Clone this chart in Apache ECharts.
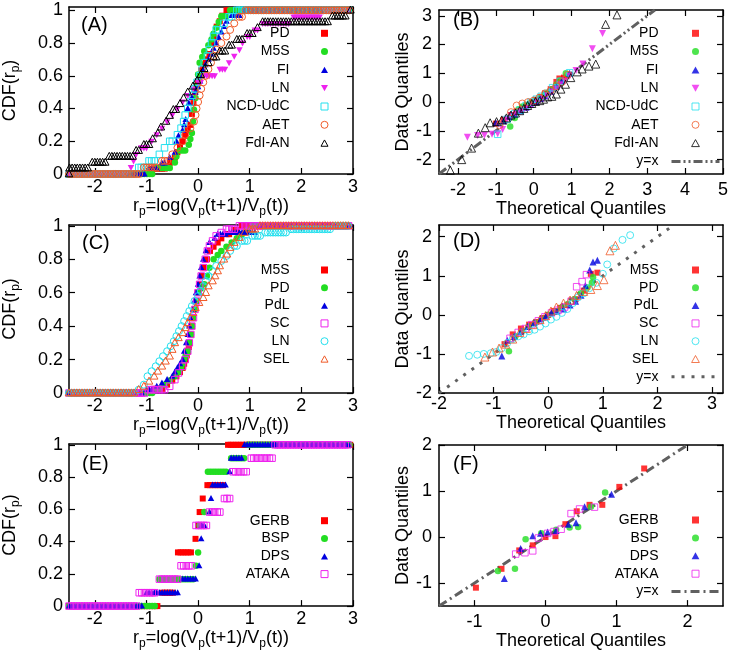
<!DOCTYPE html>
<html><head><meta charset="utf-8">
<script src="https://cdn.jsdelivr.net/npm/echarts@6/dist/echarts.min.js"></script>
<style>html,body{margin:0;padding:0;background:#fff}#c{width:731px;height:651px}</style>
</head><body><div id="c"></div>
<script>
// ---------------- DATA ----------------
// CDF panels: [x where the empirical CDF jumps, CDF value after the jump]
const cdfA_PD = [[-0.9,0.033],[-0.55,0.067],[-0.45,0.1],[-0.4,0.133],[-0.35,0.167],[-0.3,0.2],[-0.25,0.233],[-0.2,0.267],[-0.15,0.3],[-0.12,0.367],[-0.09,0.433],[-0.06,0.5],[-0.03,0.533],[0.0,0.567],[0.03,0.6],[0.06,0.633],[0.1,0.667],[0.15,0.7],[0.22,0.733],[0.27,0.8],[0.32,0.833],[0.36,0.9],[0.42,0.933],[0.47,0.967],[0.55,1.0]];
const cdfA_M5S = [[-0.8,0.036],[-0.45,0.071],[-0.42,0.107],[-0.35,0.143],[-0.18,0.179],[-0.15,0.214],[-0.12,0.25],[-0.1,0.321],[-0.08,0.393],[-0.05,0.464],[-0.02,0.536],[0.0,0.607],[0.03,0.679],[0.08,0.714],[0.12,0.75],[0.2,0.786],[0.26,0.821],[0.3,0.857],[0.35,0.893],[0.4,0.929],[0.45,0.964],[0.62,1.0]];
const cdfA_FI = [[-0.95,0.033],[-0.7,0.067],[-0.55,0.1],[-0.45,0.133],[-0.42,0.2],[-0.38,0.233],[-0.3,0.267],[-0.27,0.3],[-0.24,0.333],[-0.2,0.4],[-0.18,0.433],[-0.12,0.467],[-0.05,0.5],[0.0,0.533],[0.04,0.567],[0.08,0.6],[0.1,0.633],[0.14,0.667],[0.2,0.7],[0.25,0.733],[0.3,0.767],[0.35,0.8],[0.4,0.833],[0.45,0.867],[0.5,0.9],[0.55,0.933],[0.65,0.967],[0.9,1.0]];
const cdfA_LN = [[-1.3,0.04],[-1.25,0.08],[-1.2,0.12],[-1.1,0.16],[-0.9,0.2],[-0.8,0.24],[-0.7,0.28],[-0.6,0.32],[-0.5,0.36],[-0.4,0.4],[-0.3,0.44],[-0.2,0.48],[-0.1,0.52],[0.0,0.56],[0.12,0.6],[0.42,0.64],[0.6,0.68],[0.7,0.72],[0.8,0.76],[0.86,0.8],[0.95,0.84],[1.1,0.88],[1.25,0.92],[1.85,0.96],[2.45,1.0]];
const cdfA_NCD = [[-1.15,0.04],[-0.95,0.08],[-0.75,0.12],[-0.65,0.16],[-0.55,0.2],[-0.4,0.24],[-0.33,0.28],[-0.28,0.32],[-0.25,0.36],[-0.2,0.4],[-0.15,0.44],[-0.1,0.48],[-0.06,0.52],[-0.02,0.56],[0.03,0.6],[0.08,0.64],[0.12,0.68],[0.18,0.72],[0.22,0.76],[0.26,0.8],[0.3,0.84],[0.35,0.88],[0.5,0.92],[0.6,0.96],[0.75,1.0]];
const cdfA_AET = [[-1.05,0.04],[-0.7,0.08],[-0.5,0.12],[-0.4,0.16],[-0.3,0.2],[-0.25,0.24],[-0.15,0.28],[-0.08,0.32],[-0.05,0.36],[-0.03,0.4],[0.0,0.44],[0.03,0.48],[0.06,0.52],[0.1,0.56],[0.15,0.6],[0.2,0.64],[0.25,0.68],[0.3,0.72],[0.35,0.76],[0.45,0.8],[0.55,0.84],[0.62,0.88],[0.7,0.92],[0.8,0.96],[0.92,1.0]];
const cdfA_FdI = [[-2.49,0.036],[-2.05,0.071],[-1.72,0.107],[-1.2,0.143],[-1.05,0.179],[-0.88,0.214],[-0.78,0.25],[-0.72,0.286],[-0.62,0.321],[-0.55,0.357],[-0.48,0.393],[-0.35,0.429],[-0.28,0.464],[-0.2,0.5],[-0.1,0.536],[-0.02,0.571],[0.05,0.607],[0.12,0.643],[0.2,0.679],[0.3,0.714],[0.42,0.75],[0.6,0.786],[0.75,0.821],[0.95,0.857],[1.15,0.893],[1.25,0.929],[2.6,0.964],[2.95,1.0]];

const cdfC_M5S = [[-0.85,0.025],[-0.6,0.05],[-0.5,0.075],[-0.42,0.1],[-0.35,0.125],[-0.3,0.15],[-0.27,0.175],[-0.24,0.2],[-0.22,0.225],[-0.2,0.25],[-0.18,0.275],[-0.16,0.3],[-0.14,0.35],[-0.12,0.4],[-0.1,0.45],[-0.07,0.5],[-0.04,0.55],[-0.01,0.6],[0.03,0.65],[0.07,0.7],[0.12,0.75],[0.17,0.8],[0.23,0.85],[0.3,0.875],[0.38,0.9],[0.45,0.925],[0.55,0.95],[0.7,0.975],[0.85,1.0]];
const cdfC_PD = [[-0.8,0.025],[-0.65,0.05],[-0.55,0.075],[-0.45,0.1],[-0.38,0.125],[-0.33,0.15],[-0.3,0.175],[-0.27,0.2],[-0.24,0.225],[-0.2,0.25],[-0.17,0.3],[-0.14,0.35],[-0.12,0.4],[-0.1,0.45],[-0.07,0.5],[-0.04,0.55],[0.0,0.6],[0.05,0.625],[0.12,0.65],[0.17,0.7],[0.22,0.75],[0.3,0.8],[0.38,0.825],[0.45,0.85],[0.55,0.875],[0.65,0.9],[0.75,0.925],[0.85,0.95],[0.95,0.975],[1.05,1.0]];
const cdfC_PdL = [[-1.0,0.02],[-0.8,0.04],[-0.7,0.06],[-0.6,0.08],[-0.5,0.1],[-0.45,0.125],[-0.4,0.15],[-0.35,0.175],[-0.3,0.2],[-0.27,0.25],[-0.23,0.3],[-0.2,0.35],[-0.17,0.4],[-0.14,0.45],[-0.1,0.5],[-0.07,0.55],[-0.04,0.6],[0.0,0.65],[0.03,0.7],[0.06,0.75],[0.1,0.8],[0.15,0.85],[0.22,0.9],[0.32,0.925],[0.38,0.95],[0.6,0.96],[1.2,1.0]];
const cdfC_SC = [[-0.95,0.02],[-0.55,0.04],[-0.45,0.08],[-0.38,0.12],[-0.3,0.16],[-0.25,0.2],[-0.2,0.25],[-0.17,0.3],[-0.14,0.35],[-0.12,0.4],[-0.09,0.45],[-0.06,0.5],[-0.03,0.55],[0.0,0.6],[0.03,0.65],[0.06,0.7],[0.1,0.75],[0.14,0.8],[0.18,0.85],[0.22,0.88],[0.28,0.91],[0.35,0.94],[0.45,0.96],[0.55,0.98],[0.8,1.0]];
const cdfC_LN = [[-1.15,0.02],[-1.05,0.05],[-0.98,0.1],[-0.9,0.13],[-0.82,0.16],[-0.75,0.19],[-0.68,0.22],[-0.6,0.25],[-0.53,0.28],[-0.47,0.31],[-0.42,0.34],[-0.37,0.37],[-0.32,0.4],[-0.27,0.43],[-0.22,0.46],[-0.17,0.49],[-0.12,0.52],[-0.07,0.55],[0.0,0.58],[0.05,0.61],[0.1,0.64],[0.15,0.67],[0.2,0.7],[0.28,0.73],[0.35,0.76],[0.45,0.79],[0.55,0.82],[0.62,0.85],[0.7,0.88],[0.85,0.91],[1.05,0.94],[1.3,0.96],[1.8,0.98],[2.65,1.0]];
const cdfC_SEL = [[-1.15,0.02],[-1.05,0.04],[-0.95,0.07],[-0.85,0.1],[-0.78,0.13],[-0.7,0.16],[-0.63,0.19],[-0.55,0.22],[-0.5,0.26],[-0.45,0.3],[-0.38,0.33],[-0.3,0.36],[-0.25,0.39],[-0.2,0.42],[-0.15,0.45],[-0.1,0.48],[-0.05,0.51],[0.02,0.54],[0.1,0.57],[0.15,0.6],[0.2,0.64],[0.28,0.67],[0.33,0.7],[0.38,0.73],[0.42,0.76],[0.5,0.8],[0.56,0.83],[0.62,0.87],[0.7,0.9],[0.8,0.93],[0.9,0.96],[1.0,0.98],[1.2,1.0]];

const cdfE_GERB = [[-0.69,0.083],[-0.39,0.333],[-0.05,0.417],[0.0,0.5],[0.03,0.583],[0.09,0.667],[0.18,0.75],[0.58,1.0]];
const cdfE_BSP = [[-0.75,0.167],[-0.04,0.25],[0.0,0.333],[0.03,0.5],[0.12,0.583],[0.19,0.833],[0.64,0.917],[0.97,1.0]];
const cdfE_DPS = [[-1.0,0.083],[-0.3,0.167],[0.02,0.25],[0.06,0.417],[0.07,0.5],[0.22,0.583],[0.25,0.667],[0.28,0.75],[0.61,0.833],[0.64,0.917],[0.9,1.0]];
const cdfE_ATAKA = [[-1.14,0.083],[-0.75,0.167],[-0.33,0.25],[-0.04,0.5],[0.22,0.583],[0.51,0.667],[0.68,0.833],[1.03,0.917],[1.49,1.0]];

// Q-Q panels: [theoretical quantile, data quantile]
const qqB_PD = [[-1.0,-0.75],[-0.8,-0.62],[-0.6,-0.45],[-0.45,-0.32],[-0.3,-0.2],[-0.18,-0.1],[-0.05,0.0],[0.05,0.08],[0.18,0.18],[0.3,0.3],[0.45,0.45],[0.6,0.7],[0.68,0.82],[0.8,0.85]];
const qqB_M5S = [[-0.62,-0.85],[-0.5,-0.55],[-0.4,-0.25],[-0.3,-0.15],[-0.2,-0.1],[-0.1,-0.05],[0.0,0.0],[0.1,0.08],[0.2,0.15],[0.3,0.25],[0.4,0.35],[0.5,0.45],[0.6,0.6],[0.7,0.75],[0.85,1.0]];
const qqB_FI = [[-1.0,-0.72],[-0.8,-0.65],[-0.65,-0.5],[-0.5,-0.42],[-0.35,-0.3],[-0.2,-0.18],[-0.08,-0.08],[0.05,0.02],[0.18,0.12],[0.3,0.22],[0.45,0.38],[0.6,0.55],[0.75,0.75],[0.95,1.0]];
const qqB_LN = [[-1.75,-1.22],[-1.48,-1.16],[-1.3,-1.15],[-1.1,-1.12],[-0.95,-1.1],[-0.82,-0.95],[-0.7,-0.6],[-0.58,-0.48],[-0.47,-0.4],[-0.36,-0.34],[-0.26,-0.27],[-0.16,-0.2],[-0.05,-0.1],[0.05,-0.02],[0.16,0.05],[0.26,0.12],[0.36,0.22],[0.47,0.35],[0.58,0.45],[0.7,0.6],[0.82,0.72],[0.95,0.9],[1.12,1.1],[1.3,1.32],[1.55,1.85],[1.82,2.38]];
const qqB_NCD = [[-0.95,-1.12],[-0.7,-0.6],[-0.5,-0.4],[-0.35,-0.28],[-0.2,-0.12],[-0.07,0.0],[0.07,0.1],[0.2,0.2],[0.35,0.3],[0.5,0.5],[0.7,0.72],[0.95,1.02]];
const qqB_AET = [[-0.9,-0.8],[-0.6,-0.35],[-0.45,-0.12],[-0.3,-0.05],[-0.15,0.0],[0.0,0.05],[0.15,0.15],[0.3,0.3],[0.45,0.4],[0.6,0.55],[0.75,0.7],[0.9,0.95]];
const qqB_FdI = [[-2.2,-2.37],[-1.9,-2.0],[-1.64,-1.6],[-1.46,-1.08],[-1.28,-0.89],[-1.15,-0.72],[-0.98,-0.68],[-0.84,-0.62],[-0.72,-0.55],[-0.6,-0.45],[-0.48,-0.38],[-0.37,-0.3],[-0.26,-0.22],[-0.16,-0.12],[-0.05,-0.05],[0.05,0.02],[0.16,0.05],[0.26,0.1],[0.37,0.18],[0.48,0.2],[0.6,0.28],[0.72,0.45],[0.84,0.62],[0.98,0.85],[1.15,1.05],[1.28,1.15],[1.46,1.25],[1.64,1.32],[1.9,2.7],[2.2,3.03]];

const qqD_M5S = [[-0.8,-0.75],[-0.65,-0.5],[-0.5,-0.35],[-0.35,-0.25],[-0.22,-0.18],[-0.1,-0.08],[0.0,0.0],[0.1,0.1],[0.22,0.18],[0.35,0.25],[0.5,0.4],[0.65,0.62],[0.78,1.05],[0.9,1.08]];
const qqD_PD = [[-0.72,-0.93],[-0.6,-0.55],[-0.48,-0.42],[-0.36,-0.3],[-0.24,-0.2],[-0.12,-0.1],[0.0,0.0],[0.12,0.08],[0.24,0.18],[0.36,0.28],[0.48,0.4],[0.6,0.55],[0.72,0.7],[0.8,0.82],[0.82,0.96]];
const qqD_PdL = [[-0.85,-1.05],[-0.75,-0.65],[-0.62,-0.55],[-0.5,-0.42],[-0.38,-0.3],[-0.26,-0.2],[-0.14,-0.1],[-0.04,-0.02],[0.06,0.06],[0.16,0.1],[0.28,0.15],[0.4,0.25],[0.5,0.35],[0.6,0.5],[0.68,0.75],[0.76,1.15],[0.82,1.35],[0.9,1.4]];
const qqD_SC = [[-0.7,-0.6],[-0.55,-0.45],[-0.42,-0.35],[-0.3,-0.25],[-0.18,-0.15],[-0.06,-0.05],[0.06,0.05],[0.18,0.12],[0.3,0.2],[0.42,0.35],[0.52,0.72],[0.62,0.85],[0.7,1.03]];
const qqD_LN = [[-1.45,-1.05],[-1.3,-1.02],[-1.18,-1.0],[-1.05,-0.98],[-0.95,-0.95],[-0.85,-0.85],[-0.75,-0.72],[-0.65,-0.62],[-0.55,-0.55],[-0.45,-0.5],[-0.35,-0.42],[-0.25,-0.38],[-0.15,-0.3],[-0.05,-0.22],[0.05,-0.12],[0.15,-0.05],[0.25,0.05],[0.35,0.15],[0.45,0.3],[0.55,0.45],[0.65,0.55],[0.75,0.68],[0.88,0.82],[1.0,1.05],[1.08,1.29],[1.2,1.7],[1.36,1.92],[1.5,2.04]];
const qqD_SEL = [[-1.16,-1.08],[-1.02,-0.95],[-0.9,-0.85],[-0.78,-0.75],[-0.65,-0.62],[-0.52,-0.45],[-0.4,-0.35],[-0.28,-0.25],[-0.15,-0.12],[-0.05,-0.02],[0.05,0.1],[0.15,0.2],[0.28,0.3],[0.4,0.38],[0.52,0.5],[0.65,0.6],[0.78,0.65],[0.9,0.75],[1.02,0.9],[1.13,1.64],[1.23,1.78]];

const qqF_GERB = [[-0.98,-1.1],[-0.62,-0.69],[-0.37,-0.29],[-0.18,-0.18],[0.0,0.0],[0.14,0.02],[0.28,0.28],[0.44,0.56],[0.62,0.7],[0.8,0.7],[1.04,1.09],[1.39,1.49]];
const qqF_BSP = [[-0.67,-0.74],[-0.43,-0.69],[-0.28,-0.05],[-0.06,0.08],[0.15,0.16],[0.34,0.21],[0.46,0.22],[0.64,0.66],[0.84,0.97]];
const qqF_DPS = [[-0.58,-0.9],[-0.35,-0.25],[-0.18,0.03],[-0.07,0.08],[0.03,0.11],[0.15,0.14],[0.32,0.28],[0.43,0.31],[0.55,0.66],[0.93,0.93]];
const qqF_ATAKA = [[-0.42,-0.37],[-0.29,-0.34],[-0.18,-0.3],[-0.1,-0.02],[0.03,0.08],[0.12,0.12],[0.22,0.17],[0.36,0.51],[0.48,0.61],[0.69,0.65]];

// y = x reference lines (start, end)
const refB = [-2.5, 3.2];
const refD = [-2, 2.3];
const refF = [-1.5, 2];

// Axis ranges and tick labels
const xRangeCDF = [-2.5, 3], xTicksCDF = [-2, -1, 0, 1, 2, 3], yTicksCDF = [0, 0.2, 0.4, 0.6, 0.8, 1];
const xRangeB = [-2.5, 5], yRangeB = [-2.5, 3.2], xTicksB = [-2,-1,0,1,2,3,4,5], yTicksB = [-2,-1,0,1,2,3];
const xRangeD = [-2, 3.2], yRangeD = [-2, 2.3], xTicksD = [-2,-1,0,1,2,3], yTicksD = [-2,-1,0,1,2];
const xRangeF = [-1.5, 2.5], yRangeF = [-1.5, 2], xTicksF = [-1,0,1,2], yTicksF = [-1,0,1,2];
const yMaxA = 1.02, yMaxC = 1.005, yMaxE = 1.005;

// ---------------- STYLE / LAYOUT ----------------
const FONT = '"Liberation Sans", Arial, Helvetica, sans-serif';
const COL = {red:'#ff0000', green:'#22dd22', blue:'#0000e0', mag:'#ee22ee', cyan:'#22e0ee', orange:'#f05a28', black:'#000000', gray:'#606060'};
const M = {
  sqF:{shape:'rect', open:false, size:6}, ciF:{shape:'circle', open:false, size:6.5},
  trF:{shape:'tri', open:false, size:6.5}, tdF:{shape:'tridown', open:false, size:6.5},
  sqO:{shape:'rect', open:true, size:6.5}, ciO:{shape:'circle', open:true, size:7},
  trO:{shape:'tri', open:true, size:7.5}
};
const grids = [
  {left:67, top:7, width:286, height:167},
  {left:439, top:10, width:284, height:164},
  {left:67, top:225, width:286, height:168},
  {left:439, top:225, width:284, height:168},
  {left:67, top:444, width:286, height:167},
  {left:439, top:445, width:284, height:164}
];

function markerEl(shape, cx, cy, s, open, color) {
  const style = open ? {fill: null, stroke: color, lineWidth: 1} : {fill: color, stroke: null};
  const h = s / 2;
  if (shape === 'rect') return {type:'rect', shape:{x:cx-h, y:cy-h, width:s, height:s}, style};
  if (shape === 'circle') return {type:'circle', shape:{cx:cx, cy:cy, r:h}, style};
  if (shape === 'tri') return {type:'polygon', shape:{points:[[cx, cy-h*1.1],[cx-h, cy+h*0.75],[cx+h, cy+h*0.75]]}, style};
  return {type:'polygon', shape:{points:[[cx, cy+h*1.1],[cx-h, cy-h*0.75],[cx+h, cy-h*0.75]]}, style};
}
function makeRender(mk, color) {
  return function (params, api) {
    const p0 = api.coord([api.value(0), api.value(2)]);
    const p1 = api.coord([api.value(1), api.value(2)]);
    const step = 2.6;
    const n = Math.max(1, Math.floor((p1[0] - p0[0]) / step));
    const children = [];
    for (let k = 0; k < n; k++) children.push(markerEl(mk.shape, p0[0] + k * step, p0[1], mk.size, mk.open, color));
    return {type:'group', children};
  };
}
function cdfSegments(jumps, xr) {
  const segs = []; let px = xr[0], pF = 0;
  jumps.forEach(j => { segs.push([px, j[0], pF]); px = j[0]; pF = j[1]; });
  segs.push([px, xr[1], pF]);
  return segs;
}
const iconOf = {rect:'path://M0,0L10,0L10,10L0,10Z', circle:'circle', tri:'path://M5,0L10,9L0,9Z', tridown:'path://M0,0L10,0L5,9Z'};
const legendData = [[],[],[],[],[],[]];
const series = [];
function legendItem(name, mk, color) {
  return {name, icon: iconOf[mk.shape],
    itemStyle: mk.open ? {color:'rgba(0,0,0,0)', borderColor:color, borderWidth:1} : {color, borderWidth:0}};
}
function addCDF(gi, key, label, jumps, mk, color) {
  const name = key + ':' + label;
  series.push({type:'custom', name, xAxisIndex:2*gi, yAxisIndex:2*gi, clip:false,
    data: cdfSegments(jumps, xRangeCDF), encode:{x:[0,1], y:2},
    itemStyle:{color}, renderItem: makeRender(mk, color)});
  legendData[gi].push(legendItem(name, mk, color));
}
function addQQ(gi, key, label, pts, mk, color) {
  const name = key + ':' + label;
  const sym = (mk.shape === 'tridown' || mk.shape === 'tri') ? 'triangle' : mk.shape;
  series.push({type:'scatter', name, xAxisIndex:2*gi, yAxisIndex:2*gi, data: pts,
    symbol: sym, symbolRotate: mk.shape === 'tridown' ? 180 : 0, symbolSize: mk.size + (mk.shape.indexOf('tri') >= 0 ? 0.5 : 0),
    itemStyle: mk.open ? {color:'rgba(0,0,0,0)', borderColor:color, borderWidth:1} : {color, borderWidth:0},
    emphasis:{disabled:true}});
  legendData[gi].push(legendItem(name, mk, color));
}
function addRef(gi, key, ends, dash) {
  const name = key + ':y=x';
  series.push({type:'line', name, xAxisIndex:2*gi, yAxisIndex:2*gi, data: ends.map(v => [v, v]),
    symbol:'none', showSymbol:false, itemStyle:{color:COL.gray}, lineStyle:{color:COL.gray, width:3, type:dash}, z:1, silent:true});
  legendData[gi].push({name, itemStyle:{color:'rgba(0,0,0,0)', borderWidth:0}, lineStyle:{color:COL.gray, width:3, type:dash}});
}

// Panel A
addCDF(0,'A','PD',cdfA_PD,M.sqF,COL.red);
addCDF(0,'A','M5S',cdfA_M5S,M.ciF,COL.green);
addCDF(0,'A','FI',cdfA_FI,M.trF,COL.blue);
addCDF(0,'A','LN',cdfA_LN,M.tdF,COL.mag);
addCDF(0,'A','NCD-UdC',cdfA_NCD,M.sqO,COL.cyan);
addCDF(0,'A','AET',cdfA_AET,M.ciO,COL.orange);
addCDF(0,'A','FdI-AN',cdfA_FdI,M.trO,COL.black);
// Panel B
const dashB = [9,3,2,3,2,3], dashD = [3,7], dashF = [9,4,2,4];
addRef(1,'B',refB,dashB);
addQQ(1,'B','PD',qqB_PD,M.sqF,COL.red);
addQQ(1,'B','M5S',qqB_M5S,M.ciF,COL.green);
addQQ(1,'B','FI',qqB_FI,M.trF,COL.blue);
addQQ(1,'B','LN',qqB_LN,M.tdF,COL.mag);
addQQ(1,'B','NCD-UdC',qqB_NCD,M.sqO,COL.cyan);
addQQ(1,'B','AET',qqB_AET,M.ciO,COL.orange);
addQQ(1,'B','FdI-AN',qqB_FdI,M.trO,COL.black);
// Panel C
addCDF(2,'C','M5S',cdfC_M5S,M.sqF,COL.red);
addCDF(2,'C','PD',cdfC_PD,M.ciF,COL.green);
addCDF(2,'C','PdL',cdfC_PdL,M.trF,COL.blue);
addCDF(2,'C','SC',cdfC_SC,M.sqO,COL.mag);
addCDF(2,'C','LN',cdfC_LN,M.ciO,COL.cyan);
addCDF(2,'C','SEL',cdfC_SEL,M.trO,COL.orange);
// Panel D
addRef(3,'D',refD,dashD);
addQQ(3,'D','M5S',qqD_M5S,M.sqF,COL.red);
addQQ(3,'D','PD',qqD_PD,M.ciF,COL.green);
addQQ(3,'D','PdL',qqD_PdL,M.trF,COL.blue);
addQQ(3,'D','SC',qqD_SC,M.sqO,COL.mag);
addQQ(3,'D','LN',qqD_LN,M.ciO,COL.cyan);
addQQ(3,'D','SEL',qqD_SEL,M.trO,COL.orange);
// Panel E
addCDF(4,'E','GERB',cdfE_GERB,M.sqF,COL.red);
addCDF(4,'E','BSP',cdfE_BSP,M.ciF,COL.green);
addCDF(4,'E','DPS',cdfE_DPS,M.trF,COL.blue);
addCDF(4,'E','ATAKA',cdfE_ATAKA,M.sqO,COL.mag);
// Panel F
addRef(5,'F',refF,dashF);
addQQ(5,'F','GERB',qqF_GERB,M.sqF,COL.red);
addQQ(5,'F','BSP',qqF_BSP,M.ciF,COL.green);
addQQ(5,'F','DPS',qqF_DPS,M.trF,COL.blue);
addQQ(5,'F','ATAKA',qqF_ATAKA,M.sqO,COL.mag);
// reference line entries go last in their legends
[1,3,5].forEach(i => legendData[i].push(legendData[i].shift()));

// ---------------- AXES ----------------
const rich = {n:{fontSize:18, fontFamily:FONT, color:'#000', lineHeight:24, verticalAlign:'middle'},
              s:{fontSize:12, fontFamily:FONT, color:'#000', lineHeight:24, verticalAlign:'bottom'}};
const xNameCDF = '{n|r}{s|p}{n|=log(V}{s|p}{n|(t+1)/V}{s|p}{n|(t))}';
const yNameCDF = '{n|CDF(r}{s|p}{n|)}';
const tickStyle = {show:true, inside:true, length:6, lineStyle:{color:'#000', width:1.2}};
const lineSt = {show:true, onZero:false, lineStyle:{color:'#000', width:1.5}};
const labelSt = {color:'#000', fontSize:18, fontFamily:FONT};
function axesFor(gi, xr, yr, xt, yt, xName, yName, xGap, yGap, xMargin, yMargin) {
  const xs = [
    {type:'value', gridIndex:gi, position:'bottom', min:xr[0], max:xr[1], axisLine:lineSt,
     axisTick:Object.assign({customValues:xt}, tickStyle), axisLabel:Object.assign({customValues:xt, margin:xMargin}, labelSt),
     splitLine:{show:false}, name:xName, nameLocation:'middle', nameGap:xGap,
     nameTextStyle:{fontSize:18, fontFamily:FONT, color:'#000', rich}},
    {type:'value', gridIndex:gi, position:'top', min:xr[0], max:xr[1], axisLine:lineSt,
     axisTick:Object.assign({customValues:xt}, tickStyle), axisLabel:{show:false}, splitLine:{show:false}}
  ];
  const ys = [
    {type:'value', gridIndex:gi, position:'left', min:yr[0], max:yr[1], axisLine:lineSt,
     axisTick:Object.assign({customValues:yt}, tickStyle), axisLabel:Object.assign({customValues:yt, margin:yMargin}, labelSt),
     splitLine:{show:false}, name:yName, nameLocation:'middle', nameGap:yGap,
     nameTextStyle:{fontSize:18, fontFamily:FONT, color:'#000', rich}},
    {type:'value', gridIndex:gi, position:'right', min:yr[0], max:yr[1], axisLine:lineSt,
     axisTick:Object.assign({customValues:yt}, tickStyle), axisLabel:{show:false}, splitLine:{show:false}}
  ];
  return {xs, ys};
}
const axSpecs = [
  axesFor(0, xRangeCDF, [0, yMaxA], xTicksCDF, yTicksCDF, xNameCDF, yNameCDF, 9, 47, 4, 6),
  axesFor(1, xRangeB, yRangeB, xTicksB, yTicksB, '{n|Theoretical Quantiles}', '{n|Data Quantiles}', 5, 20, 7, 7),
  axesFor(2, xRangeCDF, [0, yMaxC], xTicksCDF, yTicksCDF, xNameCDF, yNameCDF, 6, 47, 4, 6),
  axesFor(3, xRangeD, yRangeD, xTicksD, yTicksD, '{n|Theoretical Quantiles}', '{n|Data Quantiles}', 2, 20, 2, 7),
  axesFor(4, xRangeCDF, [0, yMaxE], xTicksCDF, yTicksCDF, xNameCDF, yNameCDF, 7, 47, 4, 6),
  axesFor(5, xRangeF, yRangeF, xTicksF, yTicksF, '{n|Theoretical Quantiles}', '{n|Data Quantiles}', 11, 20, 7, 7)
];
const xAxis = [], yAxis = [];
axSpecs.forEach(a => { xAxis.push(...a.xs); yAxis.push(...a.ys); });

// ---------------- LEGENDS ----------------
const legendPos = [
  {right:402.5, top:26.3, gap:4.3, pad:26.5, w:7},
  {right:10, top:26.3, gap:4.3, pad:8, w:48},
  {right:402.5, top:263, gap:3.8, pad:26.5, w:7},
  {right:10, top:263, gap:3.8, pad:8, w:48},
  {right:402.5, top:513.7, gap:3.8, pad:26.5, w:7},
  {right:10, top:513, gap:3.9, pad:8, w:48}
];
const legend = legendData.map((d, i) => ({
  orient:'vertical', align:'right', right:legendPos[i].right, top:legendPos[i].top, padding:0,
  itemGap:legendPos[i].gap, itemWidth:legendPos[i].w, itemHeight:7, data:d, selectedMode:false,
  formatter: n => n.split(':')[1],
  textStyle:{fontSize:14, fontFamily:FONT, color:'#000', padding:[0, legendPos[i].pad, 0, 0]}
}));

const panelLabels = [['(A)',81,15],['(B)',453,10.7],['(C)',82,233],['(D)',453,231.7],['(E)',82,454],['(F)',453,454]];
const title = panelLabels.map(p => ({text:p[0], left:p[1], top:p[2], padding:0,
  textStyle:{fontSize:20, fontWeight:'normal', fontFamily:FONT, color:'#000'}}));

const chart = echarts.init(document.getElementById('c'), null, {renderer:'canvas'});
chart.setOption({animation:false, backgroundColor:'#fff', title, legend, grid:grids, xAxis, yAxis, series});
</script>
</body></html>
